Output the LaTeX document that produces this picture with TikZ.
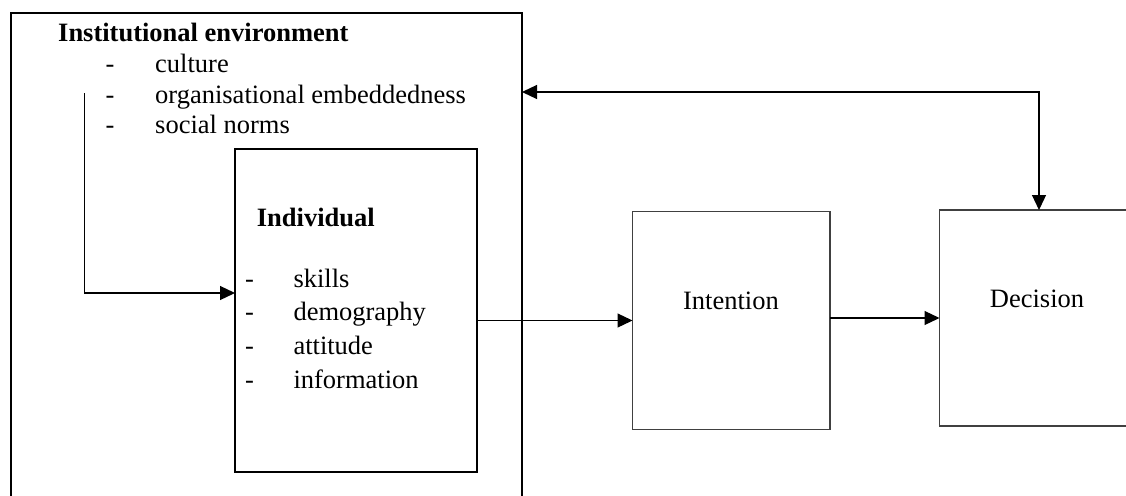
\documentclass[tikz,border=0pt]{standalone}
\usepackage{fontspec}
\setmainfont{Liberation Serif}
\usetikzlibrary{arrows.meta}
\usetikzlibrary{positioning}

\begin{document}
\begin{tikzpicture}[x=1pt,y=-1pt]
	\tikzset{box/.style={draw,line width=2pt,inner sep=0pt,outer sep=0pt},
		thinbox/.style={draw=black!75,line width=1.3pt,inner sep=0pt,outer sep=0pt},
		txt/.style={inner sep=0pt,anchor=base west,font=\fontsize{26.5}{30}\selectfont},
		bold/.style={txt,font=\fontsize{26.5}{30}\selectfont\bfseries},
		tip/.style={Triangle[length=15pt,width=14pt]},
		conn/.style={line width=1.2pt,-{Triangle[length=15pt,width=14pt]}}}
	
	% Page size
	\useasboundingbox (0,0) rectangle (1126,495);
	\clip (0,0) rectangle (1126,495);
	
	% Outer box (runs off the bottom)
	\node[box,minimum width=511.5pt,minimum height=507pt] (env) at (266.25,266.35) {};
	
	% Inner box
	\node[box,minimum width=242pt,minimum height=323pt] (indiv) at (356,310.5) {};
	
	% Intention and decision boxes
	\node[thinbox,minimum width=197.5pt,minimum height=218pt] (intent) at (731.25,320.5) {};
	\node[thinbox,minimum width=195.5pt,minimum height=216pt] (decis) at (1037.25,318) {};
	
	% Outer box text
	\node[bold] (envtitle) at (58,41.7) {Institutional environment};
	\foreach \y/\t [count=\i] in {72.5/culture,103/organisational embeddedness,133.5/social norms}
	{
		\node[txt] (envdash\i) at (105.5,\y) {-};
		\node[txt] (envitem\i) at (155,\y) {\t};
	}
	
	% Inner box text
	\node[bold] (indivtitle) at (256.7,226.7) {Individual};
	\foreach \y/\t [count=\i] in {287.3/skills,320.9/demography,354.5/attitude,388.1/information}
	{
		\node[txt] (indivdash\i) at (245,\y) {-};
		\node[txt] (indivitem\i) at (293.3,\y) {\t};
	}
	
	% Box labels
	\node[txt,anchor=base] (intentlabel) at (731,309) {Intention};
	\node[txt,anchor=base] (decislabel) at (1037,307) {Decision};
	
	% Connectors
	\coordinate (envstart) at (84.5,93);
	\coordinate (envbend) at (84.5,293);
	\draw[conn] (envstart) -- (envbend) -- (envbend -| indiv.west);
	\draw[conn] (indiv.east |- intent.west) -- (intent.west);
	\draw[conn] (intent.east |- decis.west) -- (decis.west);
	
	% Feedback loop
	\coordinate (fb) at (1039,92);
	\draw[line width=1.2pt,{Triangle[length=15pt,width=14pt]}-{Triangle[length=15pt,width=14pt]}] (env.east |- fb) -- (fb) -- (fb |- decis.north);
\end{tikzpicture}
\end{document}
